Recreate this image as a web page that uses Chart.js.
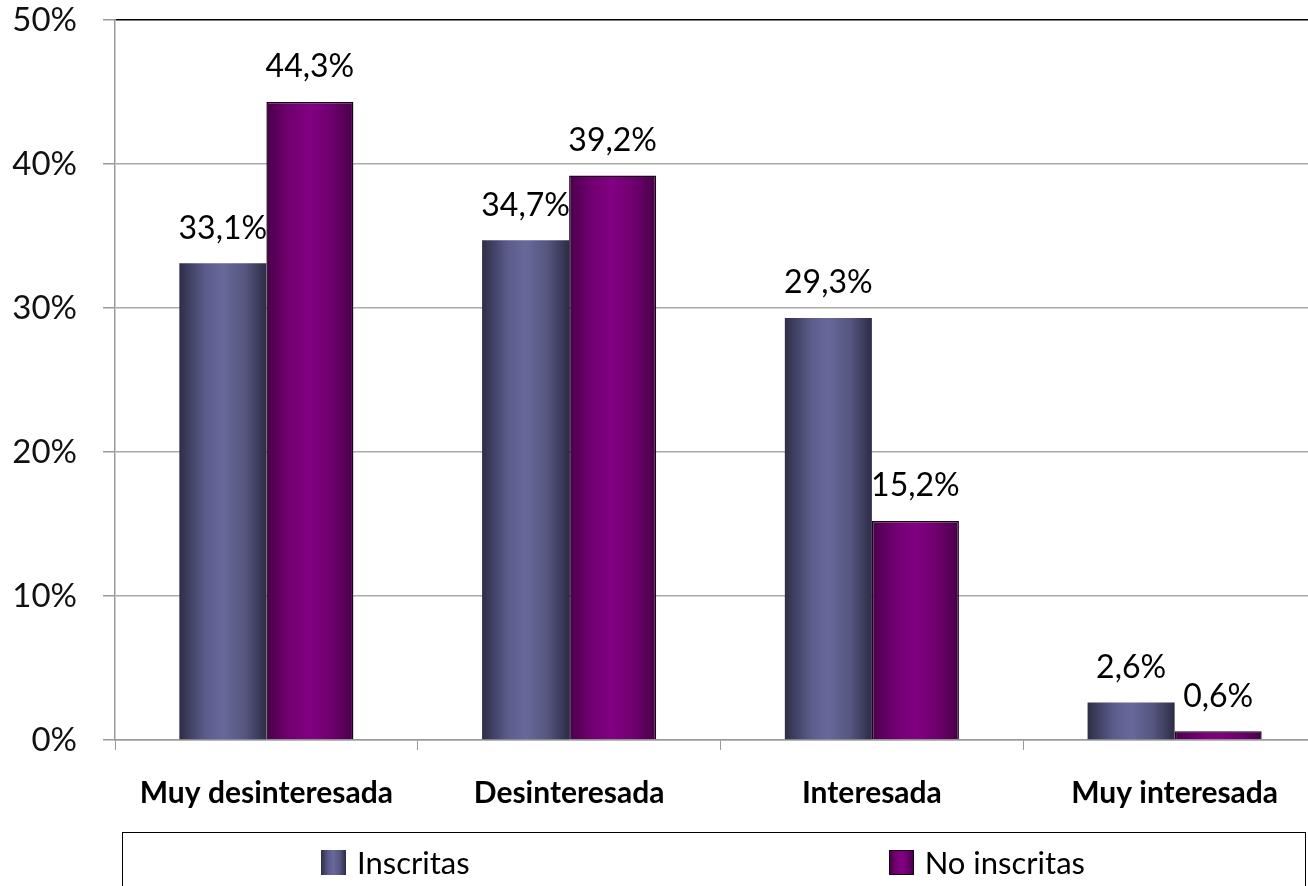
<!DOCTYPE html>
<html>
<head>
<meta charset="utf-8">
<script src="https://cdn.jsdelivr.net/npm/chart.js@4.4.1/dist/chart.umd.min.js"></script>
<style>
  body { margin: 0; overflow: hidden; background: #fff; }
  #wrap { position: relative; width: 1326px; height: 900px; }
  #legend {
    position: absolute; left: 122px; top: 832px; width: 1184px; height: 100px;
    border: 1.5px solid #000; box-sizing: border-box;
    display: flex; align-items: flex-start; padding: 10px 0 0 198px; gap: 419px;
    font-family: Lato, sans-serif; font-size: 31px; color: #000;
  }
  .item { display: flex; align-items: center; white-space: nowrap; }
  .swatch { width: 25px; height: 25px; margin-right: 11px; box-sizing: border-box; }
</style>
</head>
<body>
<div id="wrap">
  <canvas id="chart" width="1326" height="900"></canvas>
  <div id="legend"></div>
</div>
<script>
const categories = ['Muy desinteresada', 'Desinteresada', 'Interesada', 'Muy interesada'];
const seriesNames = ['Inscritas', 'No inscritas'];
const inscritas = [33.1, 34.7, 29.3, 2.6];
const noInscritas = [44.3, 39.2, 15.2, 0.6];
const yTicks = [0, 10, 20, 30, 40, 50];

const CAT_PCT = 0.575;
const FONT = 'Lato, sans-serif';

const stopsBlue = [[0, '#2e2e48'], [0.3, '#5c5c8c'], [0.5, '#68689b'], [0.75, '#565680'], [1, '#2c2c46']];
const stopsPurple = [[0, '#4a004a'], [0.25, '#700070'], [0.5, '#820082'], [0.75, '#6e006e'], [1, '#480048']];

function cssGradient(stops) {
  return 'linear-gradient(to right, ' + stops.map(s => `${s[1]} ${s[0] * 100}%`).join(', ') + ')';
}

function barGradient(stops) {
  return (ctx) => {
    const chart = ctx.chart;
    if (ctx.type !== 'data' || !chart.chartArea) return stops[2][1];
    const xs = chart.scales.x;
    const bw = xs.width / categories.length * CAT_PCT / 2;
    const left = xs.getPixelForValue(ctx.dataIndex) - bw + ctx.datasetIndex * bw;
    const g = chart.ctx.createLinearGradient(left, 0, left + bw, 0);
    stops.forEach(s => g.addColorStop(s[0], s[1]));
    return g;
  };
}

const valueLabels = {
  id: 'valueLabels',
  afterDatasetsDraw(chart) {
    const c = chart.ctx;
    c.save();
    c.font = `32px ${FONT}`;
    c.fillStyle = '#000';
    c.textAlign = 'center';
    c.textBaseline = 'middle';
    chart.data.datasets.forEach((ds, di) => {
      chart.getDatasetMeta(di).data.forEach((bar, i) => {
        c.fillText(ds.data[i].toFixed(1).replace('.', ',') + '%', bar.x, bar.y - 35);
      });
    });
    c.restore();
  }
};

const chart = new Chart(document.getElementById('chart'), {
  type: 'bar',
  data: {
    labels: categories,
    datasets: [{
      label: seriesNames[0],
      data: inscritas,
      backgroundColor: barGradient(stopsBlue),
      borderWidth: 0
    }, {
      label: seriesNames[1],
      data: noInscritas,
      backgroundColor: barGradient(stopsPurple),
      borderColor: '#1a001a',
      borderWidth: 1.5
    }]
  },
  options: {
    responsive: false,
    animation: false,
    categoryPercentage: CAT_PCT,
    barPercentage: 1,
    layout: {
      autoPadding: false,
      padding: { top: 20, left: 0, right: 0, bottom: 80 }
    },
    plugins: {
      legend: { display: false },
      tooltip: { enabled: false }
    },
    scales: {
      x: {
        afterFit: (axis) => { axis.height = 80; },
        grid: {
          offset: true,
          drawOnChartArea: false,
          tickLength: 10,
          color: '#999'
        },
        border: { color: '#999', width: 1.5 },
        ticks: {
          padding: 25,
          color: '#000',
          font: { family: FONT, size: 30, weight: 'bold' }
        }
      },
      y: {
        min: 0,
        max: 50,
        afterFit: (axis) => {
          axis.width = 115;
          axis.paddingTop = 0;
          axis.paddingBottom = 0;
        },
        afterBuildTicks: (axis) => { axis.ticks = yTicks.map(v => ({ value: v })); },
        grid: {
          color: (ctx) => ctx.tick && ctx.tick.value === 50 ? '#000' : '#aaa',
          tickColor: '#999',
          tickLength: 12,
          lineWidth: 1.5
        },
        border: { color: '#999', width: 1.5 },
        ticks: {
          padding: 26,
          color: '#111',
          font: { family: FONT, size: 33 },
          callback: (v) => v + '%'
        }
      }
    }
  },
  plugins: [valueLabels]
});

const legend = document.getElementById('legend');
chart.data.datasets.forEach((ds, i) => {
  const item = document.createElement('div');
  item.className = 'item';
  const sw = document.createElement('span');
  sw.className = 'swatch';
  sw.style.background = cssGradient(i === 0 ? stopsBlue : stopsPurple);
  if (i === 1) sw.style.border = '1.5px solid #1a001a';
  const txt = document.createElement('span');
  txt.textContent = ds.label;
  item.appendChild(sw);
  item.appendChild(txt);
  legend.appendChild(item);
});
</script>
</body>
</html>
